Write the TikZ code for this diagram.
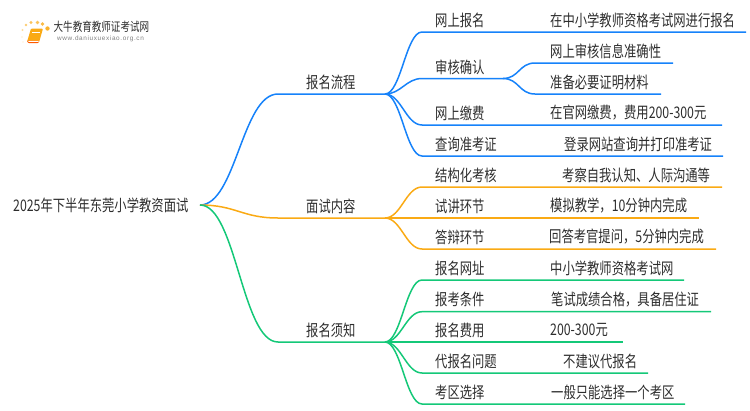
\documentclass[tikz,border=0pt]{standalone}
\usepackage{fontspec}
\usepackage{xcolor}
\newfontfamily\cjk[FakeStretch=0.77]{Noto Sans CJK SC}
\newfontfamily\urlfont[LetterSpace=10]{Liberation Sans}
\usetikzlibrary{calc}
\usetikzlibrary{positioning}
\definecolor{liuBlue}{RGB}{22,130,250}
\definecolor{liuOrange}{RGB}{250,170,20}
\definecolor{liuGreen}{RGB}{20,200,120}
\definecolor{liuText}{RGB}{45,45,45}
\tikzset{
	every label text/.style={
		font=\cjk\fontsize{16}{16}\selectfont, text=liuText, inner sep=0pt, anchor=west
	},
	curve to/.style={
		to path={(\tikztostart) .. controls +(#1,0) and +(-#1,0) .. (\tikztotarget)}
	},
	curve to/.default=16,
	main branch/.style={
		line width=1.5pt, curve to=36
	},
	sub branch/.style={
		line width=1.5pt, curve to
	},
	logo dot/.style={
		fill=#1, draw=none
	}
}
\begin{document}
\begin{tikzpicture}[x=1pt,y=-1pt]
	\useasboundingbox (0,0) rectangle (750,410);

	% logo
	\foreach \xx/\yy/\rr/\cc in {22/37/.8/20,23/42/.8/15,22.5/30/1.2/40,26/25/1.4/60,31/22.5/1.6/70,37.5/22.5/1.8/70,42.5/24/1.8/80,47.5/28.5/2.2/90}
		\fill[logo dot=liuOrange!\cc!white] (\xx,\yy) circle (\rr);
	\fill[liuOrange, rounded corners=1pt] (27,42) -- (31,28.5) -- (43,28.5) -- (39,42.5) -- cycle;
	\fill[orange!70!red, rounded corners=.8pt] (27,40.5) -- (39,40.5) -- (38.5,43) -- (28,43) -- cycle;
	\fill[white] (28.5,40.8) -- (38.6,40.8) -- (38.5,41.8) -- (28.3,41.8) -- cycle;
	\draw[white, line width=.6pt] (32,32) -- (40,32);
	\node[font=\cjk\fontsize{12.4}{13}\selectfont, text=liuText, inner sep=0pt, anchor=west] (logoname) at (53.5,27) {大牛教育教师证考试网};
	\node[font=\urlfont\fontsize{6.4}{7}\selectfont, text=black!50, inner sep=0pt, anchor=west] (logourl) at (57,39) {www.daniuxuexiao.org.cn};

	% root and main branches
	\node[every label text] (root) at (13,205) {2025年下半年东莞小学教资面试};
	\coordinate (rootout) at (200,205);

	\coordinate (flow) at (385,94);
	\coordinate (inter) at (385,218);
	\coordinate (notice) at (385,342);
	\node[every label text] (flowlabel) at (306,82) {报名流程};
	\node[every label text] (interlabel) at (306,206) {面试内容};
	\node[every label text] (noticelabel) at (306,330) {报名须知};

	\foreach \nm/\cc in {flow/liuBlue,inter/liuOrange,notice/liuGreen}
		\draw[\cc, main branch] (rootout) to ($(\nm)+(-107,0)$) -- (\nm);

	% blue items
	\foreach \nm/\yy/\lbl/\xv/\val/\xe in {
		bm/32/网上报名/550/在中小学教师资格考试网进行报名/746,
		jf/125/网上缴费/550/在官网缴费，费用200-300元/722,
		cx/156/查询准考证/564/登录网站查询并打印准考证/723}{
		\coordinate (\nm-s) at (422,\yy);
		\coordinate (\nm-e) at (\xe,\yy);
		\node[every label text] (\nm-key) at (435,\yy-12) {\lbl};
		\node[every label text] (\nm-val) at (\xv,\yy-12) {\val};
		\draw[liuBlue, sub branch] (flow) to (\nm-s) -- (\nm-e);
	}

	% this one splits again
	\coordinate (sh-s) at (422,78.5);
	\coordinate (sh-e) at (503,78.5);
	\node[every label text] (sh-key) at (435,67) {审核确认};
	\draw[liuBlue, sub branch] (flow) to (sh-s) -- (sh-e);
	\foreach \nm/\yy/\val/\xe in {
		sa/63/网上审核信息准确性/673,
		sb/94/准备必要证明材料/661}{
		\coordinate (\nm-s) at (535,\yy);
		\coordinate (\nm-e) at (\xe,\yy);
		\node[every label text] (\nm-val) at (550,\yy-12) {\val};
		\draw[liuBlue, sub branch] (sh-e) to (\nm-s) -- (\nm-e);
	}

	% orange items
	\foreach \nm/\yy/\lbl/\xv/\val/\xe in {
		jg/187/结构化考核/562/考察自我认知、人际沟通等/722,
		sj/218/试讲环节/550/模拟教学，10分钟内完成/699,
		db/249/答辩环节/549/回答考官提问，5分钟内完成/716}{
		\coordinate (\nm-s) at (422,\yy);
		\coordinate (\nm-e) at (\xe,\yy);
		\node[every label text] (\nm-key) at (435,\yy-12) {\lbl};
		\node[every label text] (\nm-val) at (\xv,\yy-12) {\val};
		\draw[liuOrange, sub branch] (inter) to (\nm-s) -- (\nm-e);
	}

	% green items
	\foreach \nm/\yy/\lbl/\xv/\val/\xe in {
		wz/280/报名网址/550/中小学教师资格考试网/684,
		tj/311.7/报考条件/551/笔试成绩合格，具备居住证/711,
		fy/342/报名费用/550/200-300元/623,
		dl/373/代报名问题/563/不建议代报名/648,
		kq/404/考区选择/551/一般只能选择一个考区/685}{
		\coordinate (\nm-s) at (422,\yy);
		\coordinate (\nm-e) at (\xe,\yy);
		\node[every label text] (\nm-key) at (435,\yy-12) {\lbl};
		\node[every label text] (\nm-val) at (\xv,\yy-12) {\val};
		\draw[liuGreen, sub branch] (notice) to (\nm-s) -- (\nm-e);
	}
\end{tikzpicture}
\end{document}
